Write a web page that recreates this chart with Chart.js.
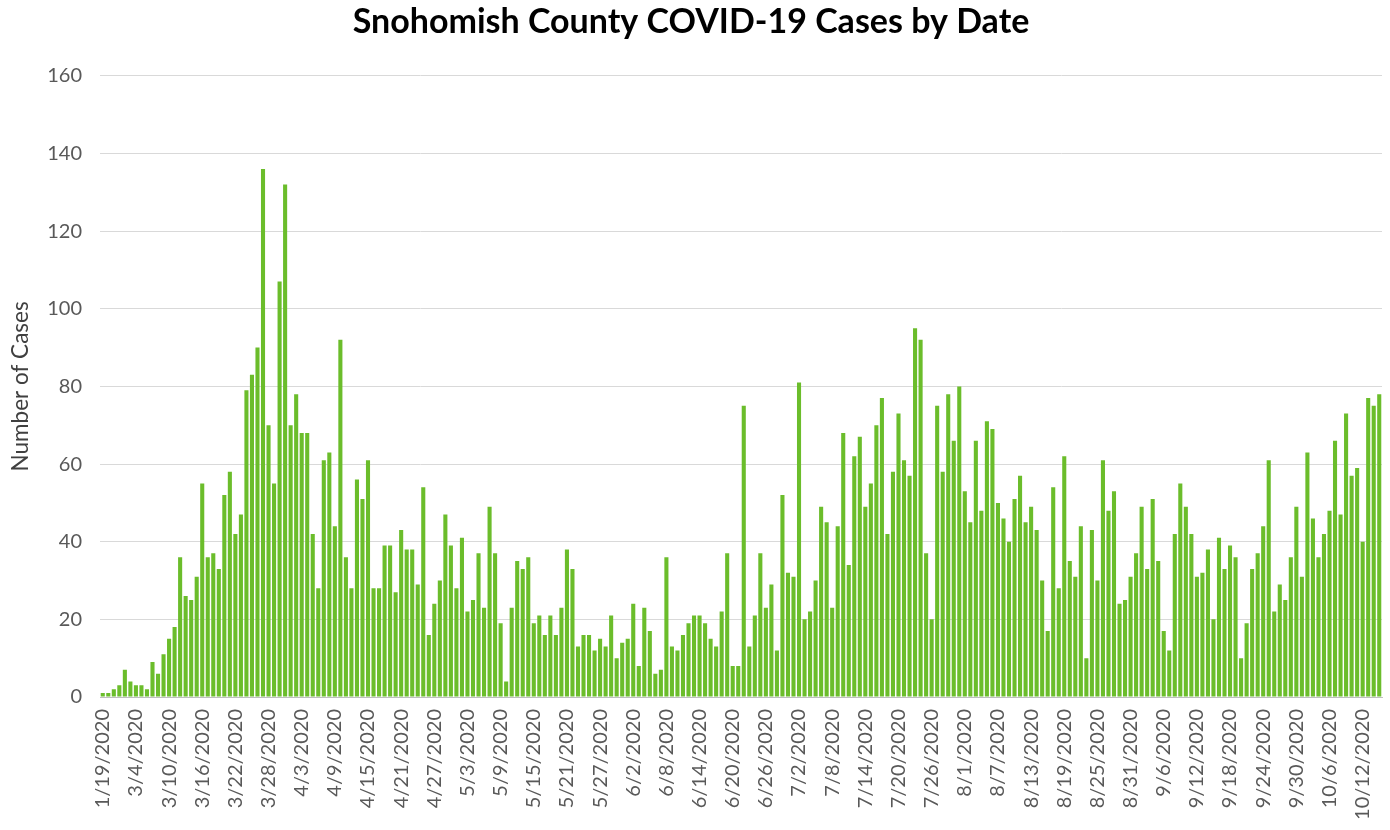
<!DOCTYPE html>
<html>
<head>
<meta charset="utf-8">
<title>Snohomish County COVID-19 Cases by Date</title>
<script src="https://cdn.jsdelivr.net/npm/chart.js@4.4.1/dist/chart.umd.min.js"></script>
<style>
  html, body { margin: 0; padding: 0; background: #ffffff; }
  canvas { display: block; }
</style>
</head>
<body>
<canvas id="casesChart" width="1390" height="830"></canvas>
<script>
// first reported day, then the gap up to daily reporting from 3/4
const earlyDates = ['1/19/2020', '2/28/2020', '2/29/2020', '3/1/2020', '3/2/2020', '3/3/2020'];
const dailyStart = '3/4/2020';
const dailyEnd = '10/15/2020';

const cases = [
  1, 1, 2, 3, 7, 4, 3, 3, 2, 9, 6, 11, 15, 18, 36, 26, 25, 31, 55,
  36, 37, 33, 52, 58, 42, 47, 79, 83, 90, 136, 70, 55, 107, 132, 70, 78, 68, 68,
  42, 28, 61, 63, 44, 92, 36, 28, 56, 51, 61, 28, 28, 39, 39, 27, 43, 38, 38, 29,
  54, 16, 24, 30, 47, 39, 28, 41, 22, 25, 37, 23, 49, 37, 19, 4, 23, 35, 33, 36,
  19, 21, 16, 21, 16, 23, 38, 33, 13, 16, 16, 12, 15, 13, 21, 10, 14, 15, 24,
  8, 23, 17, 6, 7, 36, 13, 12, 16, 19, 21, 21, 19, 15, 13, 22, 37, 8, 8, 75,
  13, 21, 37, 23, 29, 12, 52, 32, 31, 81, 20, 22, 30, 49, 45, 23, 44, 68, 34,
  62, 67, 49, 55, 70, 77, 42, 58, 73, 61, 57, 95, 92, 37, 20, 75, 58, 78, 66, 80,
  53, 45, 66, 48, 71, 69, 50, 46, 40, 51, 57, 45, 49, 43, 30, 17, 54, 28, 62, 35,
  31, 44, 10, 43, 30, 61, 48, 53, 24, 25, 31, 37, 49, 33, 51, 35, 17, 12, 42,
  55, 49, 42, 31, 32, 38, 20, 41, 33, 39, 36, 10, 19, 33, 37, 44, 61, 22, 29, 25,
  36, 49, 31, 63, 46, 36, 42, 48, 66, 47, 73, 57, 59, 40, 77, 75, 78
];

const yTicks = [0, 20, 40, 60, 80, 100, 120, 140, 160];
const labelEvery = 6;

function buildDates() {
  const out = earlyDates.slice();
  const [sm, sd, sy] = dailyStart.split('/').map(Number);
  const [em, ed, ey] = dailyEnd.split('/').map(Number);
  const d = new Date(sy, sm - 1, sd);
  const end = new Date(ey, em - 1, ed);
  while (d <= end) {
    out.push((d.getMonth() + 1) + '/' + d.getDate() + '/' + d.getFullYear());
    d.setDate(d.getDate() + 1);
  }
  return out;
}
const dates = buildDates();

const font = "Lato, 'Open Sans', sans-serif";
const grey = '#595959';

new Chart(document.getElementById('casesChart'), {
  type: 'bar',
  data: {
    labels: dates,
    datasets: [{
      label: 'Cases',
      data: cases,
      backgroundColor: '#6bbd2b',
      borderWidth: 0,
      barPercentage: 0.74,
      categoryPercentage: 1.0
    }]
  },
  options: {
    responsive: false,
    animation: false,
    layout: { padding: { left: 0, right: 8, top: 0, bottom: 0 } },
    plugins: {
      legend: { display: false },
      tooltip: { enabled: false },
      title: {
        display: true,
        text: 'Snohomish County COVID-19 Cases by Date',
        color: '#000000',
        font: { family: font, size: 34, weight: 'bold' },
        padding: { top: 2, bottom: 33 }
      }
    },
    scales: {
      x: {
        grid: { display: false },
        border: { display: true, color: '#bfbfbf', width: 1 },
        ticks: {
          autoSkip: false,
          maxRotation: 90,
          minRotation: 90,
          padding: 4,
          color: grey,
          font: { family: font, size: 20 },
          callback: function (val, i) {
            return i % labelEvery === 0 ? this.getLabelForValue(val) : '';
          }
        },
        afterFit: function (scale) {
          scale.height = 133;
          scale.paddingLeft = 0;
          scale.paddingRight = 0;
        }
      },
      y: {
        min: yTicks[0],
        max: yTicks[yTicks.length - 1],
        grid: { color: '#d9d9d9', lineWidth: 1, drawTicks: false },
        border: { display: false },
        afterBuildTicks: function (scale) {
          scale.ticks = yTicks.map(v => ({ value: v }));
        },
        ticks: {
          padding: 18,
          color: grey,
          font: { family: font, size: 20 }
        },
        title: {
          display: true,
          text: 'Number of Cases',
          color: '#404040',
          font: { family: font, size: 22.5 },
          padding: { top: 7, bottom: 0 }
        },
        afterFit: function (scale) { scale.width = 100; }
      }
    }
  }
});
</script>
</body>
</html>
